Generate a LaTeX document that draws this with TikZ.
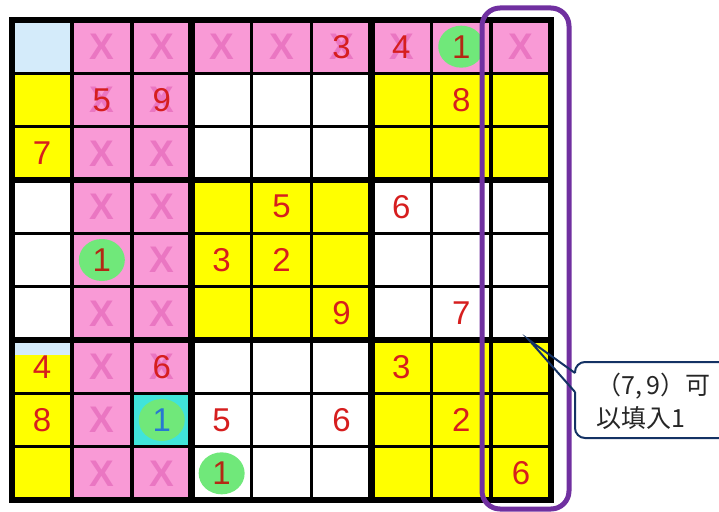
\documentclass[tikz,border=0pt]{standalone}
\usepackage{fontspec}
\setmainfont{Liberation Sans}
\newfontfamily\cjk{Noto Sans CJK TC}
\definecolor{pinkc}{RGB}{249,154,214}
\definecolor{xcol}{RGB}{234,118,194}
\definecolor{yel}{RGB}{255,255,0}
\definecolor{lblue}{RGB}{212,235,250}
\definecolor{cyanc}{RGB}{64,228,218}
\definecolor{greenc}{RGB}{112,232,122}
\definecolor{redd}{RGB}{214,30,30}
\definecolor{dred}{RGB}{180,40,20}
\definecolor{blued}{RGB}{40,120,210}
\definecolor{purp}{RGB}{112,48,160}
\definecolor{navy}{RGB}{20,50,100}
\begin{document}
\begin{tikzpicture}[x=1pt,y=-1pt,
  xmark/.style={text=xcol,inner sep=0pt,font=\bfseries\fontsize{37}{37}\selectfont},
  digit/.style={inner sep=0pt,font=\fontsize{33}{33}\selectfont},
  thinline/.style={line width=3.5pt,black},
  thickline/.style={line width=6.5pt,black},
  frame/.style={draw=purp,line width=5pt,rounded corners=18pt},
  callout/.style={draw=navy,line width=2pt}]
\useasboundingbox (0,0) rectangle (719,511);
\def\cw{59.9}
\def\ch{53.333}
% cell fills
\foreach \colr/\ca/\ra/\cb/\rb in {pinkc/2/1/3/9, pinkc/4/1/9/1, lblue/1/1/1/1, yel/1/2/1/3, yel/7/2/9/3, yel/4/4/6/6, yel/1/7/1/9, yel/7/7/9/9, cyanc/3/8/3/8}
  \fill[\colr] ({12+\cw*(\ca-1)},{20+\ch*(\ra-1)}) rectangle ({12+\cw*\cb},{20+\ch*\rb});
\fill[lblue] (12,340) rectangle (72,355);
% X marks
\foreach \c/\r in {2/1,3/1,4/1,5/1,6/1,7/1,9/1,2/2,3/2,2/3,3/3,2/4,3/4,3/5,2/6,3/6,2/7,3/7,2/8,2/9,3/9}
  \node[xmark] (x\c\r) at ({12+\cw*(\c-0.5)},{20+\ch*(\r-0.5)}) {X};
% green ellipses
\foreach \c/\r in {8/1,2/5,3/8,4/9}
  \fill[greenc] ({12+\cw*(\c-0.5)},{20+\ch*(\r-0.5)}) ellipse [x radius=23, y radius=21];
% digits
\foreach \c/\r/\d/\tc in {6/1/3/redd,7/1/4/redd,8/1/1/dred,2/2/5/redd,3/2/9/redd,8/2/8/redd,1/3/7/redd,5/4/5/redd,7/4/6/redd,2/5/1/dred,4/5/3/redd,5/5/2/redd,6/6/9/redd,8/6/7/redd,1/7/4/redd,3/7/6/redd,7/7/3/redd,1/8/8/redd,3/8/1/blued,4/8/5/redd,6/8/6/redd,8/8/2/redd,4/9/1/dred,9/9/6/redd}
  \node[digit,text=\tc] (d\c\r) at ({12+\cw*(\c-0.5)},{20+\ch*(\r-0.5)}) {\d};
% grid lines
\foreach \i in {1,2,4,5,7,8} {
  \draw[thinline] ({12+\cw*\i},20) -- ({12+\cw*\i},500);
  \draw[thinline] (12,{20+\ch*\i}) -- ({12+\cw*9},{20+\ch*\i});
}
\foreach \i in {3,6} {
  \draw[thickline] ({12+\cw*\i},20) -- ({12+\cw*\i},500);
  \draw[thickline] (12,{20+\ch*\i}) -- ({12+\cw*9},{20+\ch*\i});
}
\draw[thickline] (12,20) rectangle ({12+\cw*9},500);
% purple frame around column 9
\draw[frame] (482,8) rectangle (569,509);
% callout
\coordinate (tip) at (529,340);
\coordinate (wa) at (575,373);
\coordinate (wb) at (575,392);
\draw[callout,rounded corners=10pt] (wb) -- (575,438) -- (736,438) -- (736,362) -- (575,362) -- (wa);
\draw[callout,line join=miter] (wa) -- (tip) -- (wb);
\node[anchor=north west,align=left,inner sep=0pt,text=black!85,font=\cjk\fontsize{25}{33}\selectfont] (note) at (596,373) {（7,\,9）可\\以填入1};
\end{tikzpicture}
\end{document}
